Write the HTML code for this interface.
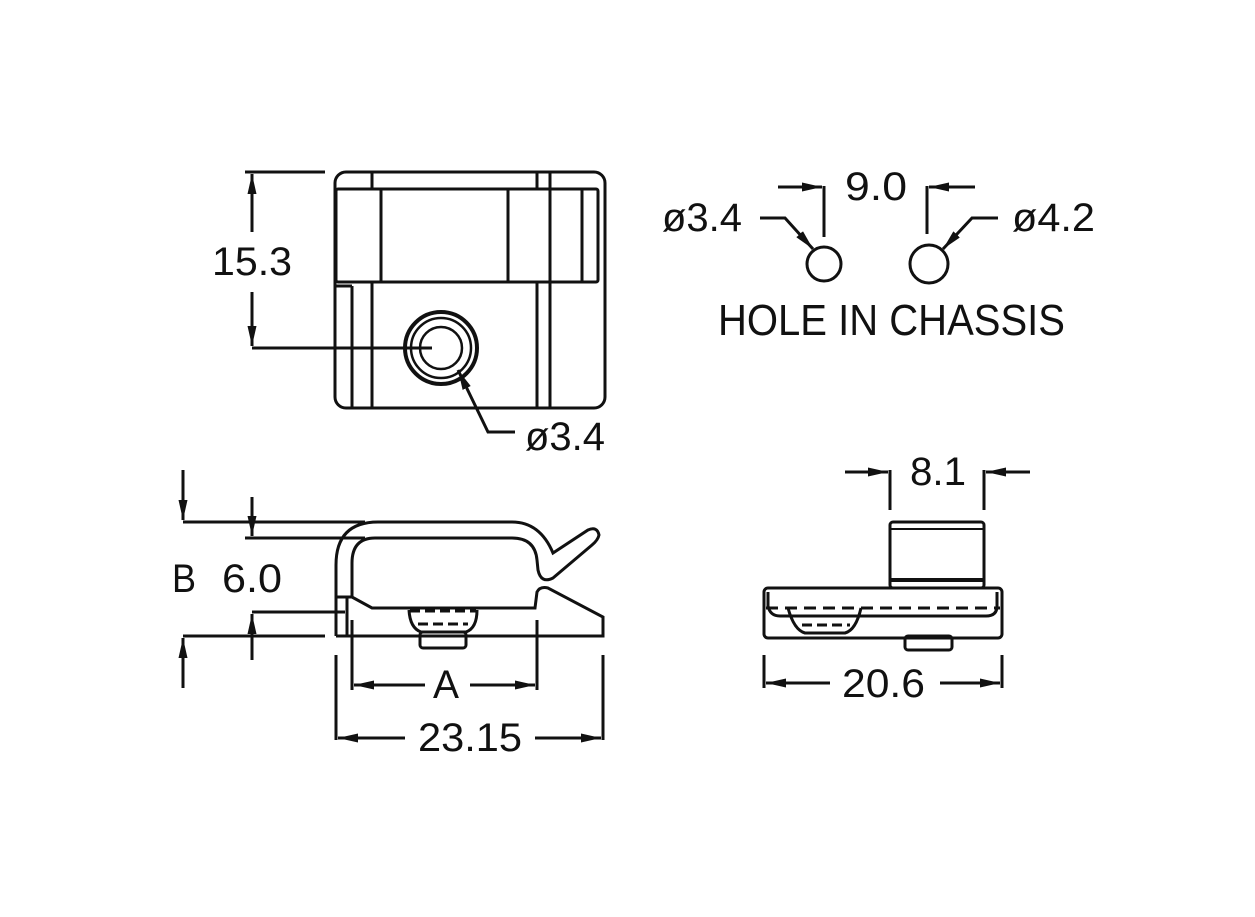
<!DOCTYPE html>
<html><head><style>html,body{margin:0;padding:0;background:#fff}</style></head>
<body>
<svg width="1255" height="912" viewBox="0 0 1255 912" xmlns="http://www.w3.org/2000/svg">
<defs>
<marker id="ar" markerWidth="20" markerHeight="9" refX="20" refY="4.5" orient="auto" markerUnits="userSpaceOnUse">
<path d="M0,0 L20,4.5 L0,9 Z" fill="#111"/></marker>
</defs>
<g fill="none" stroke="#111" stroke-width="3">
<rect x="335" y="172" width="270" height="236" rx="11"/>
<rect x="336" y="189" width="262" height="93" rx="2"/>
<line x1="372" y1="172" x2="372" y2="189"/><line x1="372" y1="282" x2="372" y2="408"/>
<line x1="381" y1="189" x2="381" y2="282"/><line x1="508" y1="189" x2="508" y2="282"/>
<line x1="537" y1="172" x2="537" y2="189"/><line x1="537" y1="282" x2="537" y2="408"/>
<line x1="550" y1="172" x2="550" y2="408"/><line x1="582" y1="189" x2="582" y2="282"/>
<line x1="352" y1="286" x2="352" y2="408"/><line x1="336" y1="286" x2="352" y2="286"/>
<circle cx="441" cy="348" r="36" stroke-width="4"/>
<circle cx="441" cy="348" r="30" stroke-width="2.5"/>
<circle cx="441" cy="348" r="21" stroke-width="2.5"/>
<line x1="245" y1="172" x2="325" y2="172"/>
<line x1="252" y1="348" x2="432" y2="348"/>
<line x1="252" y1="232" x2="252" y2="174" marker-end="url(#ar)"/>
<line x1="252" y1="292" x2="252" y2="346" marker-end="url(#ar)"/>
<polyline points="515,432 488,432 458,370" marker-end="url(#ar)"/>
<circle cx="824" cy="264" r="17"/>
<circle cx="929" cy="264" r="19"/>
<line x1="824" y1="186" x2="824" y2="237"/><line x1="927" y1="186" x2="927" y2="234"/>
<line x1="778" y1="187" x2="822" y2="187" marker-end="url(#ar)"/>
<line x1="975" y1="187" x2="929" y2="187" marker-end="url(#ar)"/>
<polyline points="760,218 785,218 813,249" marker-end="url(#ar)"/>
<polyline points="998,218 972,218 943,249" marker-end="url(#ar)"/>
<path d="M336,636 L336,565 Q336,522 378,522 L512,522 Q540,522 553,553 L588,530 Q597,526 599,535 Q598,540 592,545 L553,578 Q541,584 538,570 L537,560 Q535,538 512,538 L375,538 Q352,538 352,563 L352,597"/>
<path d="M336,597 L352,597 L372,608 L535,608 L537,592 Q540,586 548,588 L603,617 L603,636 L336,636"/>
<line x1="347" y1="597" x2="347" y2="636"/>
<path d="M409,610 Q410,628 421,632 L466,632 Q477,628 477,610"/>
<rect x="420" y="632" width="46" height="16" rx="3"/>
<line x1="410" y1="611" x2="476" y2="611" stroke-dasharray="10,5"/>
<line x1="418" y1="624" x2="468" y2="624" stroke-dasharray="10,5"/>
<line x1="183" y1="522" x2="365" y2="522"/>
<line x1="183" y1="636" x2="325" y2="636"/>
<line x1="245" y1="538" x2="365" y2="538"/>
<line x1="252" y1="612" x2="345" y2="612"/>
<line x1="183" y1="470" x2="183" y2="520" marker-end="url(#ar)"/>
<line x1="183" y1="688" x2="183" y2="638" marker-end="url(#ar)"/>
<line x1="252" y1="497" x2="252" y2="536" marker-end="url(#ar)"/>
<line x1="252" y1="660" x2="252" y2="614" marker-end="url(#ar)"/>
<line x1="352" y1="620" x2="352" y2="690"/><line x1="537" y1="620" x2="537" y2="690"/>
<line x1="425" y1="685" x2="354" y2="685" marker-end="url(#ar)"/>
<line x1="470" y1="685" x2="535" y2="685" marker-end="url(#ar)"/>
<line x1="336" y1="655" x2="336" y2="740"/><line x1="603" y1="655" x2="603" y2="740"/>
<line x1="405" y1="738" x2="338" y2="738" marker-end="url(#ar)"/>
<line x1="535" y1="738" x2="601" y2="738" marker-end="url(#ar)"/>
<rect x="764" y="588" width="238" height="50" rx="4"/>
<path d="M768,592 L768,606 Q770,616 780,616 L986,616 Q997,616 997,606 L997,592"/>
<line x1="766" y1="608" x2="1000" y2="608" stroke-dasharray="12,7"/>
<rect x="890" y="522" width="94" height="66" rx="3"/>
<line x1="890" y1="529" x2="984" y2="529" stroke-width="2"/>
<line x1="890" y1="580" x2="984" y2="580" stroke-width="4"/>
<path d="M788,608 Q794,630 805,633 L845,633 Q856,630 861,608"/>
<line x1="802" y1="625" x2="850" y2="625" stroke-dasharray="10,5"/>
<rect x="905" y="636" width="47" height="14" rx="3"/>
<line x1="890" y1="470" x2="890" y2="510"/><line x1="984" y1="470" x2="984" y2="510"/>
<line x1="845" y1="472" x2="888" y2="472" marker-end="url(#ar)"/>
<line x1="1030" y1="472" x2="986" y2="472" marker-end="url(#ar)"/>
<line x1="764" y1="655" x2="764" y2="688"/><line x1="1002" y1="655" x2="1002" y2="688"/>
<line x1="830" y1="683" x2="766" y2="683" marker-end="url(#ar)"/>
<line x1="940" y1="683" x2="1000" y2="683" marker-end="url(#ar)"/>
</g>
<g font-family="Liberation Sans, sans-serif" font-size="40" fill="#111">
<text x="212" y="275" textLength="80" lengthAdjust="spacingAndGlyphs">15.3</text>
<text x="525" y="450" textLength="80" lengthAdjust="spacingAndGlyphs">ø3.4</text>
<text x="845" y="200" textLength="62" lengthAdjust="spacingAndGlyphs">9.0</text>
<text x="662" y="231" textLength="80" lengthAdjust="spacingAndGlyphs">ø3.4</text>
<text x="1012" y="231" textLength="83" lengthAdjust="spacingAndGlyphs">ø4.2</text>
<text x="718" y="335" font-size="44" textLength="347" lengthAdjust="spacingAndGlyphs">HOLE IN CHASSIS</text>
<text x="172" y="592" textLength="24" lengthAdjust="spacingAndGlyphs">B</text>
<text x="222" y="592" textLength="60" lengthAdjust="spacingAndGlyphs">6.0</text>
<text x="433" y="698" textLength="26" lengthAdjust="spacingAndGlyphs">A</text>
<text x="418" y="751" textLength="104" lengthAdjust="spacingAndGlyphs">23.15</text>
<text x="910" y="485" textLength="56" lengthAdjust="spacingAndGlyphs">8.1</text>
<text x="842" y="697" textLength="83" lengthAdjust="spacingAndGlyphs">20.6</text>
</g>
</svg>
</body></html>
